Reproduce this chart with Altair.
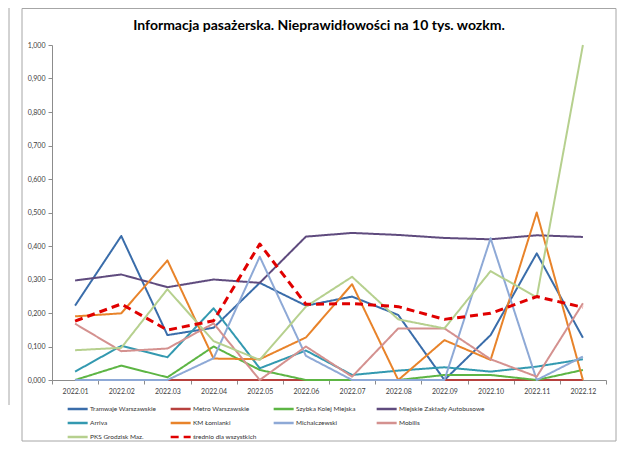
import altair as alt
import pandas as pd

months = ["2022.01", "2022.02", "2022.03", "2022.04", "2022.05", "2022.06",
          "2022.07", "2022.08", "2022.09", "2022.10", "2022.11", "2022.12"]

series_names = ["Tramwaje Warszawskie", "Metro Warszawskie", "Szybka Kolej Miejska",
                "Miejskie Zakłady Autobusowe", "Arriva", "KM Łomianki",
                "Michalczewski", "Mobilis", "PKS Grodzisk Maz.", "średnio dla wszystkich"]

tramwaje = [0.222, 0.430, 0.134, 0.156, 0.290, 0.222, 0.249, 0.194, 0.000, 0.134, 0.378, 0.126]
metro = [0.000] * 12
skm = [0.000, 0.043, 0.008, 0.100, 0.030, 0.000, 0.000, 0.000, 0.015, 0.015, 0.000, 0.030]
mza = [0.297, 0.315, 0.277, 0.300, 0.290, 0.428, 0.439, 0.433, 0.424, 0.420, 0.432, 0.427]
arriva = [0.025, 0.102, 0.068, 0.214, 0.035, 0.088, 0.015, 0.028, 0.038, 0.025, 0.040, 0.062]
km_lomianki = [0.190, 0.199, 0.357, 0.064, 0.062, 0.127, 0.286, 0.000, 0.119, 0.060, 0.500, 0.000]
michalczewski = [0.000, 0.000, 0.000, 0.065, 0.368, 0.072, 0.000, 0.000, 0.000, 0.423, 0.000, 0.070]
mobilis = [0.168, 0.086, 0.094, 0.169, 0.000, 0.100, 0.010, 0.154, 0.154, 0.062, 0.010, 0.229]
pks = [0.089, 0.096, 0.271, 0.116, 0.060, 0.219, 0.308, 0.181, 0.154, 0.325, 0.247, 1.000]
srednio = [0.176, 0.227, 0.149, 0.177, 0.406, 0.226, 0.228, 0.219, 0.181, 0.199, 0.249, 0.217]

series_values = [tramwaje, metro, skm, mza, arriva, km_lomianki, michalczewski, mobilis, pks, srednio]

colors = ["#3A6DAA", "#B7413E", "#5DB544", "#5F4B7E", "#3399B0", "#E8832A",
          "#8EA9D6", "#D4918F", "#B6D08E", "#E00000"]
dashes = [[1, 0]] * 9 + [[8, 5]]

y_ticks = [0.0, 0.1, 0.2, 0.3, 0.4, 0.5, 0.6, 0.7, 0.8, 0.9, 1.0]

rows = []
for i, (name, vals) in enumerate(zip(series_names, series_values)):
    for m, v in zip(months, vals):
        rows.append({"miesiac": m, "seria": name, "wartosc": v, "kolejnosc": i})
df = pd.DataFrame(rows)

FONT = "Lato"
AXIS_GRAY = "#8C8C8C"

legend = alt.Legend(
    title=None, orient="none", legendX=21, legendY=356, columns=4, direction="horizontal",
    symbolType="M-2,0H1", symbolSize=178, symbolStrokeWidth=2.5,
    labelFont=FONT, labelFontSize=6.5, labelColor="#333333", labelOffset=1,
    gridAlign="all", columnPadding=-14, rowPadding=1, symbolOpacity=1,
)

lines = alt.Chart(df).mark_line(strokeJoin="round").encode(
    x=alt.X("miesiac:N",
            scale=alt.Scale(type="band", domain=months, paddingInner=0, paddingOuter=0),
            axis=alt.Axis(title=None, tickBand="extent", labelAngle=0, labelFont=FONT,
                          labelFontSize=7, labelColor="#404040", tickSize=4,
                          tickColor=AXIS_GRAY, domainColor=AXIS_GRAY, labelPadding=3)),
    y=alt.Y("wartosc:Q",
            scale=alt.Scale(domain=[0, 1], nice=False, zero=True),
            axis=alt.Axis(title=None, values=y_ticks, grid=False,
                          labelExpr="replace(format(datum.value, '.3f'), '.', ',')",
                          labelFont=FONT, labelFontSize=7, labelColor="#404040",
                          tickSize=4, tickColor=AXIS_GRAY, domainColor=AXIS_GRAY,
                          labelPadding=3)),
    color=alt.Color("seria:N", scale=alt.Scale(domain=series_names, range=colors), legend=legend),
    strokeDash=alt.StrokeDash("seria:N", scale=alt.Scale(domain=series_names, range=dashes), legend=legend),
    strokeWidth=alt.condition(alt.datum.seria == "średnio dla wszystkich", alt.value(3), alt.value(2)),
    order=alt.Order("kolejnosc:Q"),
)

frame_df = pd.DataFrame({"k": [0]})
frame = alt.Chart(frame_df).mark_rect(fillOpacity=0, stroke="#A6A6A6", strokeWidth=1).encode(
    x=alt.value(-30), x2=alt.value(564), y=alt.value(-36.5), y2=alt.value(396)
)
left_edge = alt.Chart(frame_df).mark_rule(stroke="#A6A6A6", strokeWidth=1).encode(
    x=alt.value(-43), y=alt.value(-37), y2=alt.value(360)
)

chart = alt.layer(frame, left_edge, lines).properties(
    width=554, height=335,
    title=alt.TitleParams("Informacja pasażerska. Nieprawidłowości na 10 tys. wozkm.",
                          font=FONT, fontSize=14, fontWeight="bold", color="#000000",
                          anchor="middle", dx=-10, dy=39, offset=0, baseline="bottom"),
    autosize=alt.AutoSizeParams(type="none"),
    padding={"left": 44, "top": 37, "right": 13, "bottom": 70},
).configure_view(stroke=None)

chart.save("out.html", embed_options={"renderer": "svg", "actions": False})
